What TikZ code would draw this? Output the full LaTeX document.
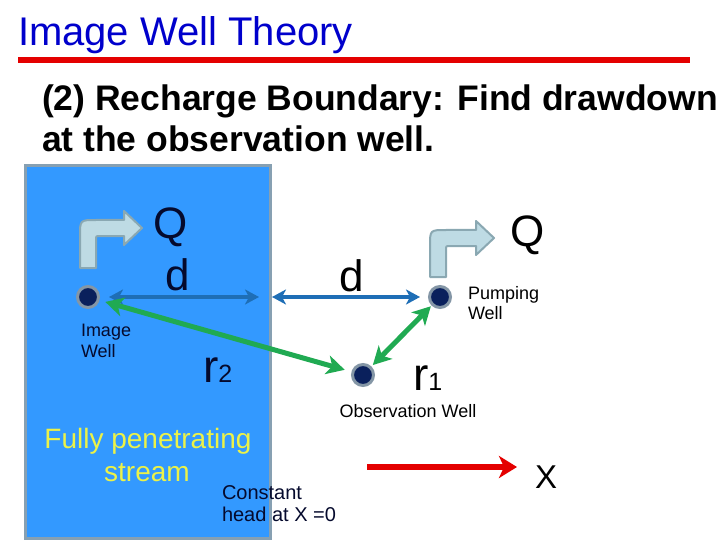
\documentclass[tikz,border=0pt]{standalone}
\usepackage{fontspec}
\setmainfont{Liberation Sans}
\usetikzlibrary{arrows.meta}
\definecolor{titleblue}{RGB}{0,0,204}
\definecolor{rulered}{RGB}{228,0,0}
\definecolor{streamblue}{RGB}{51,153,255}
\definecolor{streamedge}{RGB}{135,160,178}
\definecolor{bentfill}{RGB}{190,219,228}
\definecolor{bentedge}{RGB}{138,168,178}
\definecolor{wellfill}{RGB}{10,32,92}
\definecolor{welledge}{RGB}{132,150,166}
\definecolor{darrow}{RGB}{30,110,182}
\definecolor{garrow}{RGB}{32,170,82}
\definecolor{yellowtxt}{RGB}{236,242,72}
\definecolor{darktxt}{RGB}{5,10,45}
\newcommand\setfs[1]{\fontsize{#1}{#1}\selectfont}
\begin{document}
\begin{tikzpicture}[x=1pt,y=-1pt,
  every node/.style={inner sep=0pt,outer sep=0pt},
  wellnode/.style={circle,fill=wellfill,draw=welledge,line width=3pt,minimum size=21pt,outer sep=1.5pt},
  bentarrow/.style={fill=bentfill,draw=bentedge,line width=2pt,line join=round},
  darr/.style={draw=darrow,line width=3.5pt,{Stealth[length=14pt,width=15pt,inset=4pt]}-{Stealth[length=14pt,width=15pt,inset=4pt]}},
  garr/.style={draw=garrow,line width=5pt,{Stealth[length=18pt,width=19pt,inset=5pt]}-{Stealth[length=18pt,width=19pt,inset=5pt]}},
  rarr/.style={draw=rulered,line width=6pt,-{Stealth[length=18pt,width=22pt,inset=5pt]}},
  smalllbl/.style={anchor=base west,font=\setfs{18},text=darktxt},
  biglbl/.style={anchor=base,font=\setfs{44},text=darktxt},
  yellowlbl/.style={anchor=base,font=\setfs{28},text=yellowtxt}
]
\useasboundingbox (0,0) rectangle (720,540);
\fill[white] (0,0) rectangle (720,540);

% title and rule
\node[anchor=base west,font=\setfs{40},text=titleblue] (title) at (18,46) {Image Well Theory};
\coordinate (ruleL) at (18,60);
\coordinate (ruleR) at (690,60);
\draw[rulered,line width=6pt] (ruleL) -- (ruleR);

% subtitle
\node[anchor=base west,font=\setfs{35.5}\bfseries] (sub1) at (42,111) {(2) Recharge Boundary: Find drawdown};
\node[anchor=base west,font=\setfs{35.5}\bfseries] (sub2) at (42,152) {at the observation well.};

% stream
\draw[fill=streamblue,draw=streamedge,line width=3pt] (25,166) rectangle (270,538);

% bent arrows
\path[bentarrow] (80,268) -- (80,236) .. controls (80,220) .. (96,220) -- (124,220) -- (124,211)
  -- (142,228) -- (124,245) -- (124,236) -- (99,236) .. controls (96,236) .. (96,239) -- (96,268) -- cycle;
\path[bentarrow] (430,277) -- (430,246) .. controls (430,230) .. (446,230) -- (476,230) -- (476,221)
  -- (494,238) -- (476,255) -- (476,246) -- (449,246) .. controls (446,246) .. (446,249) -- (446,277) -- cycle;

% wells
\node[wellnode] (imgwell) at (88,297) {};
\node[wellnode] (pumpwell) at (440,297) {};
\node[wellnode] (obswell) at (363,375) {};

% connectors
\coordinate (edgeL) at (259,297);
\coordinate (edgeR) at (272,297);
\draw[darr,shorten <=9pt] (imgwell) -- (edgeL);
\draw[darr,shorten >=8pt] (edgeR) -- (pumpwell);
\draw[garr,shorten <=7pt,shorten >=6pt] (obswell) -- (imgwell);
\draw[garr,shorten <=2pt,shorten >=1pt] (obswell) -- (pumpwell);
\coordinate (xstart) at (367,467);
\coordinate (xend) at (517,467);
\draw[rarr] (xstart) -- (xend);

% labels
\node[biglbl] (Qimg) at (171,239) {Q};
\node[biglbl] (dimg) at (178,290) {d};
\node[biglbl,text=black] (Qpump) at (528,246) {Q};
\node[biglbl,text=black] (dmid) at (352,291) {d};
\node[smalllbl] (imglbl1) at (81,336) {Image};
\node[smalllbl] (imglbl2) at (81,357) {Well};
\node[smalllbl,text=black] (pumplbl1) at (468,299) {Pumping};
\node[smalllbl,text=black] (pumplbl2) at (468,319) {Well};
\node[anchor=base,font=\setfs{18}] (obslbl) at (408,417) {Observation Well};
\node[anchor=base west,text=darktxt] (rtwo) at (203,382) {\setfs{46}r\setfs{25}2};
\node[anchor=base west] (rone) at (413,390) {\setfs{46}r\setfs{25}1};
\node[yellowlbl] (fully1) at (148,448) {Fully penetrating};
\node[yellowlbl] (fully2) at (147,481) {stream};
\node[anchor=base west,font=\setfs{20},text=darktxt] (const1) at (222,499) {Constant};
\node[anchor=base west,font=\setfs{20},text=darktxt] (const2) at (222,521) {head at X =0};
\node[anchor=base,font=\setfs{33}] (xlbl) at (546,488) {X};
\end{tikzpicture}
\end{document}
